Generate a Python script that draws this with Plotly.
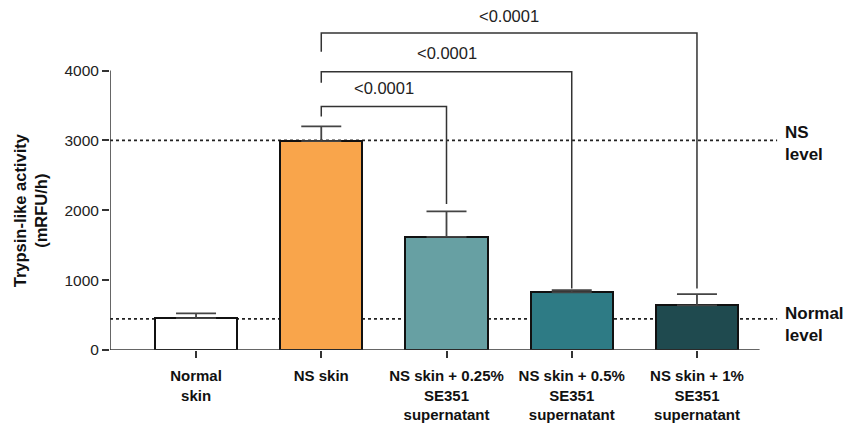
import plotly.graph_objects as go

categories = ["Normal<br>skin", "NS skin", "NS skin + 0.25%<br>SE351<br>supernatant",
              "NS skin + 0.5%<br>SE351<br>supernatant", "NS skin + 1%<br>SE351<br>supernatant"]
means = [455, 2990, 1620, 825, 640]
errors = [70, 210, 365, 30, 160]
colors = ["#FFFFFF", "#F9A54B", "#67A0A3", "#2E7B85", "#1F4A4F"]
ns_level = 3000
normal_level = 445
# brackets: (right index, bar y, left leg end, right leg end)
brackets = [(2, 3485, 3343, 2090), (3, 3983, 3826, 880), (4, 4538, 4267, 880)]
p_labels = ["<0.0001", "<0.0001", "<0.0001"]
yticks = [0, 1000, 2000, 3000, 4000]

x = list(range(len(categories)))
XL, XR = -0.687, 4.663
FONT = "Liberation Sans, Arial, sans-serif"

fig = go.Figure()
fig.add_trace(go.Bar(
    x=x, y=means, width=0.655,
    marker=dict(color=colors, line=dict(color="#111111", width=2)),
    error_y=dict(type="data", array=errors, arrayminus=[0]*5, symmetric=False,
                 color="#444444", thickness=1.8, width=20),
    showlegend=False))

for i, ((ri, yb, ll, rl), lab) in enumerate(zip(brackets, p_labels)):
    fig.add_trace(go.Scatter(x=[1, 1, ri, ri], y=[ll, yb, yb, rl], mode="lines",
                             line=dict(color="#333333", width=1.5), showlegend=False,
                             hoverinfo="skip"))
    fig.add_annotation(x=(1 + ri) / 2, y=yb, yshift=17 if i == 2 else 19, text=lab,
                       showarrow=False, font=dict(family=FONT, size=16.5, color="#222222"),
                       yanchor="middle")

# reference level lines
for lvl in [ns_level, normal_level]:
    fig.add_shape(type="line", x0=XL, x1=4.64, y0=lvl, y1=lvl, xref="x", yref="y",
                  line=dict(color="#222222", width=1.6, dash="dot"), layer="below")

# axis lines
fig.add_shape(type="line", x0=XL, x1=XL, y0=0, y1=4000, xref="x", yref="y",
              line=dict(color="#333333", width=1.5))
fig.add_shape(type="line", x0=XL, x1=4.5, y0=0, y1=0, xref="x", yref="y",
              line=dict(color="#333333", width=1.5))

fig.add_annotation(x=1.0, xref="paper", xanchor="left", xshift=3, y=ns_level, yref="y",
                   yanchor="top", yshift=19, text="<b>NS<br>level</b>", showarrow=False, align="left",
                   font=dict(family=FONT, size=17, color="#111111"))
fig.add_annotation(x=1.0, xref="paper", xanchor="left", xshift=3, y=normal_level, yref="y",
                   yanchor="top", yshift=17, text="<b>Normal<br>level</b>", showarrow=False, align="left",
                   font=dict(family=FONT, size=17, color="#111111"))
fig.add_annotation(x=0, xref="paper", xanchor="center", xshift=-80, y=2000, yref="y",
                   yanchor="middle", textangle=-90,
                   text="<b>Trypsin-like activity<br>(mRFU/h)</b>", showarrow=False,
                   font=dict(family=FONT, size=16.5, color="#111111"))

fig.update_layout(
    width=862, height=427, margin=dict(l=102, r=90, t=12, b=83),
    plot_bgcolor="white", paper_bgcolor="white", bargap=0,
    font=dict(family=FONT, color="#222222"),
    xaxis=dict(range=[XL, XR], tickvals=x, ticktext=["<b>%s</b>" % c for c in categories],
               ticks="outside", ticklen=7, tickwidth=1.5, tickcolor="#333333",
               showline=False, showgrid=False, zeroline=False, ticklabelstandoff=5,
               tickfont=dict(family=FONT, size=15, color="#111111")),
    yaxis=dict(range=[0, 4723], tickvals=yticks, ticks="outside", ticklen=7, tickwidth=1.5,
               tickcolor="#333333", showline=False, showgrid=False, zeroline=False,
               tickfont=dict(family=FONT, size=15.5, color="#222222")),
)
fig.write_html("out.html")
